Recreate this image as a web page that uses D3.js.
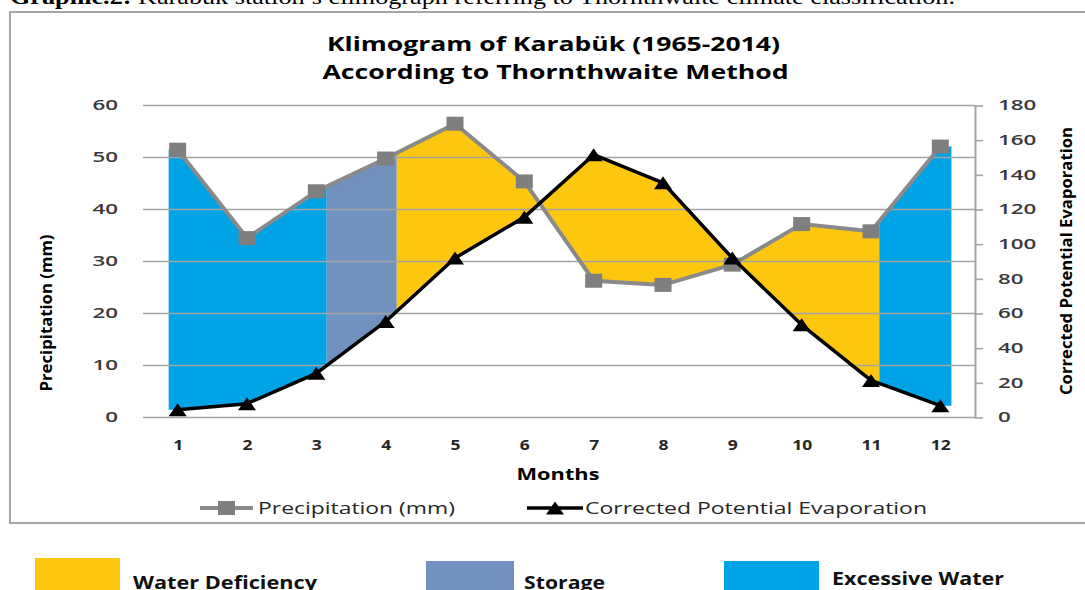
<!DOCTYPE html>
<html>
<head>
<meta charset="utf-8">
<script src="https://cdn.jsdelivr.net/npm/d3@7"></script>
<style>
  html, body { margin: 0; padding: 0; background: #fff; }
  svg { display: block; }
</style>
</head>
<body>
<svg id="chart"></svg>
<script>
// chart values
const months = [1, 2, 3, 4, 5, 6, 7, 8, 9, 10, 11, 12];
const precipitation = [51.5, 34.5, 43.5, 49.8, 56.5, 45.4, 26.3, 25.5, 29.4, 37.2, 35.8, 52.1];
const evaporation = [4.5, 8, 25.5, 55.4, 92, 115.6, 151.6, 135.4, 92, 53.5, 21.4, 6.8];
const leftTicks = [0, 10, 20, 30, 40, 50, 60];
const rightTicks = [0, 20, 40, 60, 80, 100, 120, 140, 160, 180];

// water balance periods, in months
const zoneTypes = ['excess', 'storage', 'deficiency', 'excess'];
const zoneFrom = [0.87, 3.15, 4.16, 11.12];
const zoneTo = [3.15, 4.16, 11.12, 12.16];

const zoneColor = { deficiency: '#fec70f', storage: '#7191be', excess: '#00a3e6' };
const legendItems = [
  { key: 'deficiency', label: 'Water Deficiency' },
  { key: 'storage', label: 'Storage' },
  { key: 'excess', label: 'Excessive Water' }
];

const width = 1085;
const height = 590;
const plotLeft = 143, plotRight = 975, plotTop = 105.5, plotBottom = 417.5;

const svg = d3.select('#chart')
  .attr('width', width)
  .attr('height', height);

const x = d3.scaleLinear().domain([0.5, 12.5]).range([plotLeft, plotRight]);
const yL = d3.scaleLinear().domain([0, 60]).range([plotBottom, plotTop]);
const yR = d3.scaleLinear().domain([0, 180]).range([plotBottom, plotTop]);

function stretch(sel, w) {
  sel.attr('textLength', w).attr('lengthAdjust', 'spacingAndGlyphs');
}

// caption above the frame, mostly cut off at the top
const cap = svg.append('text')
  .attr('x', 10).attr('y', 4)
  .attr('font-family', '"Liberation Serif", "Times New Roman", serif')
  .attr('font-size', 21)
  .attr('fill', '#000');
cap.append('tspan').attr('font-weight', 'bold').text('Graphic.2:');
cap.append('tspan').text(' Karabük station’s climograph referring to Thornthwaite climate classification.');
stretch(cap, 945);

// chart frame
svg.append('rect')
  .attr('x', 10).attr('y', 12)
  .attr('width', 1100).attr('height', 511)
  .attr('fill', 'none')
  .attr('stroke', '#a6a6a6')
  .attr('stroke-width', 2);

// title
const title = svg.append('g')
  .attr('font-family', '"Open Sans", sans-serif')
  .attr('font-weight', 700)
  .attr('font-size', 20)
  .attr('fill', '#000')
  .attr('text-anchor', 'middle');
title.append('text').attr('x', 553.5).attr('y', 51).text('Klimogram of Karabük (1965-2014)')
  .call(stretch, 453);
title.append('text').attr('x', 555.5).attr('y', 79).text('According to Thornthwaite Method')
  .call(stretch, 466);

// filled water balance zones between the two curves
function interp(arr, m) {
  const c = Math.max(1, Math.min(12, m));
  const i = Math.min(Math.floor(c), 11);
  const t = c - i;
  return arr[i - 1] * (1 - t) + arr[i] * t;
}

const zones = zoneTypes.map((type, k) => {
  const a = zoneFrom[k], b = zoneTo[k];
  const ms = [a].concat(months.filter(m => m > a && m < b), [b]);
  return {
    type,
    pts: ms.map(m => ({ m, p: interp(precipitation, m), e: interp(evaporation, m) }))
  };
});

const area = d3.area()
  .x(d => x(d.m))
  .y0(d => yR(d.e))
  .y1(d => yL(d.p));

svg.append('g')
  .selectAll('path')
  .data(zones)
  .enter()
    .append('path')
    .attr('d', d => area(d.pts))
    .attr('fill', d => zoneColor[d.type]);

// gridlines
svg.append('g')
  .selectAll('line')
  .data(leftTicks)
  .enter()
    .append('line')
    .attr('x1', plotLeft).attr('x2', plotRight)
    .attr('y1', d => yL(d)).attr('y2', d => yL(d))
    .attr('stroke', '#a3a3a3')
    .attr('stroke-width', 1.6);

// left axis labels
const axisFont = '"Open Sans", sans-serif';
const gL = svg.append('g')
  .attr('transform', `translate(${plotLeft},0)`)
  .call(d3.axisLeft(yL).tickValues(leftTicks).tickSize(0).tickPadding(25));
gL.select('.domain').remove();
gL.selectAll('text')
  .attr('font-family', axisFont).attr('font-size', 14).attr('font-weight', 600)
  .attr('fill', '#3a3a3a')
  .each(function(d) { d3.select(this).call(stretch, String(d).length * 12.8); });

// right axis
const gR = svg.append('g')
  .attr('transform', `translate(${plotRight},0)`)
  .call(d3.axisRight(yR).tickValues(rightTicks).tickSize(8).tickPadding(15).tickSizeOuter(0));
gR.select('.domain').attr('stroke', '#a3a3a3').attr('stroke-width', 2);
gR.selectAll('.tick line').attr('stroke', '#a3a3a3').attr('stroke-width', 1.6);
gR.selectAll('text')
  .attr('font-family', axisFont).attr('font-size', 14).attr('font-weight', 600)
  .attr('fill', '#3a3a3a')
  .each(function(d) { d3.select(this).call(stretch, String(d).length * 12.8); });

// x axis labels
const gX = svg.append('g')
  .attr('transform', `translate(0,${plotBottom})`)
  .call(d3.axisBottom(x).tickValues(months).tickSize(0).tickPadding(22));
gX.select('.domain').remove();
gX.selectAll('text')
  .attr('font-family', axisFont).attr('font-size', 15).attr('font-weight', 700)
  .attr('fill', '#262626')
  .each(function(d) { d3.select(this).call(stretch, String(d).length * 10); });

// axis titles
svg.append('text')
  .attr('transform', 'translate(52,313) rotate(-90)')
  .attr('text-anchor', 'middle')
  .attr('font-family', axisFont).attr('font-size', 16).attr('font-weight', 700)
  .attr('fill', '#000')
  .text('Precipitation (mm)')
  .call(stretch, 157);

svg.append('text')
  .attr('transform', 'translate(1072,261) rotate(-90)')
  .attr('text-anchor', 'middle')
  .attr('font-family', axisFont).attr('font-size', 16).attr('font-weight', 700)
  .attr('fill', '#000')
  .text('Corrected Potential Evaporation')
  .call(stretch, 268);

svg.append('text')
  .attr('x', 558).attr('y', 480)
  .attr('text-anchor', 'middle')
  .attr('font-family', axisFont).attr('font-size', 16).attr('font-weight', 700)
  .attr('fill', '#000')
  .text('Months')
  .call(stretch, 83);

// lines
const linePrec = d3.line().x((d, i) => x(months[i])).y(d => yL(d));
const lineEvap = d3.line().x((d, i) => x(months[i])).y(d => yR(d));

svg.append('path')
  .attr('d', linePrec(precipitation))
  .attr('fill', 'none')
  .attr('stroke', '#8a8a8a')
  .attr('stroke-width', 4)
  .attr('stroke-linejoin', 'round');

svg.append('g')
  .selectAll('rect')
  .data(precipitation)
  .enter()
    .append('rect')
    .attr('x', (d, i) => x(months[i]) - 8.5)
    .attr('y', d => yL(d) - 7)
    .attr('width', 17).attr('height', 14)
    .attr('fill', '#7f7f7f');

svg.append('path')
  .attr('d', lineEvap(evaporation))
  .attr('fill', 'none')
  .attr('stroke', '#000')
  .attr('stroke-width', 3.5)
  .attr('stroke-linejoin', 'round');

const tri = 'M0,-6.5L9,6.5L-9,6.5Z';
svg.append('g')
  .selectAll('path')
  .data(evaporation)
  .enter()
    .append('path')
    .attr('transform', (d, i) => `translate(${x(months[i])},${yR(d)})`)
    .attr('d', tri)
    .attr('fill', '#000');

// series legend
const leg = svg.append('g');
leg.append('line').attr('x1', 200).attr('x2', 253).attr('y1', 508).attr('y2', 508)
  .attr('stroke', '#8a8a8a').attr('stroke-width', 4);
leg.append('rect').attr('x', 218).attr('y', 501).attr('width', 17).attr('height', 14)
  .attr('fill', '#7f7f7f');
leg.append('text').attr('x', 258).attr('y', 514)
  .attr('font-family', axisFont).attr('font-size', 16).attr('fill', '#262626')
  .text('Precipitation (mm)').call(stretch, 197);

leg.append('line').attr('x1', 527).attr('x2', 583).attr('y1', 508).attr('y2', 508)
  .attr('stroke', '#000').attr('stroke-width', 3.5);
leg.append('path').attr('transform', 'translate(555,508)').attr('d', tri).attr('fill', '#000');
leg.append('text').attr('x', 585).attr('y', 514)
  .attr('font-family', axisFont).attr('font-size', 16).attr('fill', '#262626')
  .text('Corrected Potential Evaporation').call(stretch, 342);

// colour legend below the frame
const boxX = [35, 426, 724];
const boxY = [558, 561, 561];
const boxW = [85, 88, 95];
const textX = [133, 524, 832];
const textY = [589, 589, 585];
const textW = [184, 81, 172];

const key = svg.append('g')
  .selectAll('g')
  .data(legendItems)
  .enter()
    .append('g');
key.append('rect')
  .attr('x', (d, i) => boxX[i]).attr('y', (d, i) => boxY[i])
  .attr('width', (d, i) => boxW[i]).attr('height', 40)
  .attr('fill', d => zoneColor[d.key]);
key.append('text')
  .attr('x', (d, i) => textX[i]).attr('y', (d, i) => textY[i])
  .attr('font-family', axisFont).attr('font-size', 17).attr('font-weight', 700)
  .attr('fill', '#111')
  .text(d => d.label)
  .each(function(d, i) { d3.select(this).call(stretch, textW[i]); });
</script>
</body>
</html>
